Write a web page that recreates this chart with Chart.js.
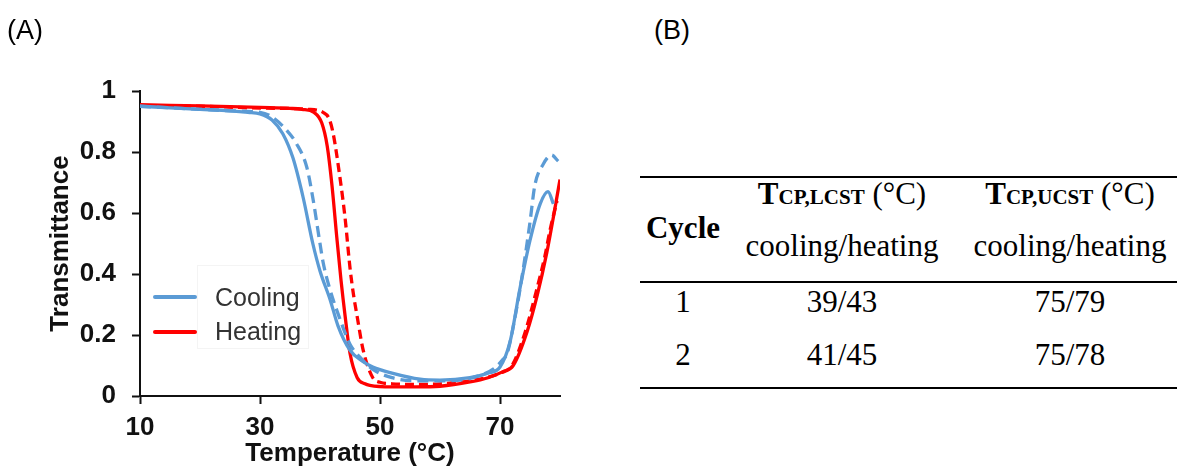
<!DOCTYPE html>
<html>
<head>
<meta charset="utf-8">
<title>Transmittance vs temperature</title>
<script src="https://cdn.jsdelivr.net/npm/chart.js@4"></script>
<style>
    html, body { margin: 0; padding: 0; background: #fff; overflow: hidden; }
    #wrap { position: relative; width: 1177px; height: 469px; overflow: hidden; }
    #chart { position: absolute; left: 0; top: 0; }
    .panel { position: absolute; font: 27px "Liberation Sans", Arial, sans-serif; line-height: 30px; color: #000; }
    .leg-line { position: absolute; width: 44px; height: 4px; border-radius: 2px; }
    .leg-text { position: absolute; left: 215px; font: 25px "Liberation Sans", Arial, sans-serif; line-height: 30px; color: #333; }
    #legbox { position: absolute; left: 197px; top: 265px; width: 110px; height: 82px; border: 1px solid #f4f4f4; }
    .rule { position: absolute; left: 640px; width: 537px; height: 2px; background: #000; }
    .cell { position: absolute; font: 31px "Liberation Serif", "Times New Roman", serif; line-height: 40px; height: 40px; text-align: center; white-space: nowrap; color: #000; }
    .cell b.big { font-weight: bold; }
    .cell b.sub { font-weight: bold; font-size: 21px; }
</style>
</head>
<body>
<div id="wrap">
    <canvas id="chart" width="600" height="469"></canvas>
    <div class="panel" style="left:7px;top:15px">(A)</div>
    <div class="panel" style="left:654px;top:15px">(B)</div>
    <div id="legbox"></div>
    <div class="leg-line" style="left:153px;top:295px;background:#5B9BD5"></div>
    <div class="leg-line" style="left:153px;top:330px;background:#FF0000"></div>
    <div class="leg-text" style="top:282px">Cooling</div>
    <div class="leg-text" style="top:316px">Heating</div>
    <div id="table"></div>
</div>
<script>
// 刻度
const xTicks = [10, 30, 50, 70];
const yTicks = [0, 0.2, 0.4, 0.6, 0.8, 1];

// 第一次循环 降温 (实线)
const cool1T = [10, 15, 20, 25, 28, 30, 32, 33.8, 35.5, 37.2, 38.8, 40, 41.7, 43, 45, 47, 48.8, 52, 56.7, 60, 65, 68, 70, 71.7, 73.3, 75, 76.7, 78, 78.9];
const cool1Y = [0.95, 0.945, 0.94, 0.935, 0.93, 0.925, 0.905, 0.86, 0.78, 0.65, 0.50, 0.41, 0.315, 0.23, 0.15, 0.115, 0.095, 0.075, 0.055, 0.052, 0.06, 0.075, 0.095, 0.18, 0.35, 0.51, 0.63, 0.67, 0.63];

// 第二次循环 降温 (虚线)
const cool2T = [10, 15, 20, 25, 30, 32, 34.5, 36, 37.8, 38.8, 40, 40.5, 41.5, 43, 45, 47, 49, 52, 56, 60, 65, 69, 70.5, 71.2, 72.8, 73.9, 75, 75.8, 77.2, 78.6, 79.7];
const cool2Y = [0.95, 0.945, 0.94, 0.935, 0.93, 0.915, 0.87, 0.83, 0.75, 0.65, 0.50, 0.44, 0.36, 0.27, 0.17, 0.12, 0.085, 0.06, 0.05, 0.05, 0.058, 0.09, 0.12, 0.14, 0.29, 0.42, 0.57, 0.69, 0.76, 0.79, 0.77];

// 第一次循环 升温 (实线)
const heat1T = [10, 15, 20, 25, 30, 35, 37, 39, 40.3, 41.2, 42, 42.8, 43.5, 44.2, 45, 46.2, 47.5, 48.3, 52, 56, 60, 65, 68, 70.5, 72.2, 74.5, 76.2, 77.8, 79.2, 80];
const heat1Y = [0.955, 0.953, 0.951, 0.949, 0.946, 0.943, 0.94, 0.93, 0.895, 0.82, 0.69, 0.52, 0.38, 0.26, 0.14, 0.06, 0.04, 0.035, 0.03, 0.03, 0.032, 0.046, 0.06, 0.08, 0.10, 0.21, 0.33, 0.47, 0.62, 0.71];

// 第二次循环 升温 (虚线)
const heat2T = [10, 20, 30, 38, 40.5, 41.5, 42.2, 43.3, 44.2, 45, 45.6, 46.2, 47.2, 48.8, 50, 52, 56, 60, 65, 70, 72, 74.2, 76, 77.5, 78.3, 79.5];
const heat2Y = [0.952, 0.95, 0.944, 0.94, 0.93, 0.91, 0.86, 0.72, 0.58, 0.42, 0.33, 0.26, 0.15, 0.06, 0.045, 0.04, 0.038, 0.04, 0.05, 0.075, 0.10, 0.21, 0.34, 0.46, 0.54, 0.64];

// 表格内容
const cycles = ['1', '2'];
const lcstValues = ['39/43', '41/45'];
const ucstValues = ['75/79', '75/78'];

const BLUE = '#5B9BD5';
const RED = '#FF0000';

function toPoints(xs, ys) {
    return xs.map((x, i) => ({ x: x, y: ys[i] }));
}

function lineSet(label, xs, ys, color, dash) {
    return {
        label: label,
        data: toPoints(xs, ys),
        borderColor: color,
        borderWidth: 3.3,
        borderDash: dash,
        borderCapStyle: 'butt',
        borderJoinStyle: 'round',
        pointRadius: 0,
        fill: false,
        cubicInterpolationMode: 'monotone'
    };
}

Chart.defaults.font.family = '"Liberation Sans", Arial, sans-serif';

const axisFont = { size: 26, weight: 'bold' };
const titleFont = { size: 26, weight: 'bold' };

new Chart(document.getElementById('chart'), {
    type: 'line',
    data: {
        datasets: [
            lineSet('Cooling', cool1T, cool1Y, BLUE, []),
            lineSet('Cooling 2', cool2T, cool2Y, BLUE, [11, 6]),
            lineSet('Heating', heat1T, heat1Y, RED, []),
            lineSet('Heating 2', heat2T, heat2Y, RED, [9, 5])
        ]
    },
    options: {
        responsive: false,
        animation: false,
        layout: { padding: { top: 91, right: 40, left: 0, bottom: 0 } },
        plugins: { legend: { display: false }, tooltip: { enabled: false } },
        scales: {
            x: {
                type: 'linear',
                min: 10,
                max: 80,
                afterBuildTicks: s => { s.ticks = xTicks.map(v => ({ value: v })); },
                afterFit: s => { s.height = 73; },
                grid: { drawOnChartArea: false, drawTicks: true, tickLength: 8, tickColor: '#111', tickWidth: 2 },
                border: { display: true, color: '#111', width: 2 },
                ticks: { color: '#111', font: axisFont, padding: 8, maxRotation: 0, callback: v => String(v) },
                title: { display: true, text: 'Temperature (°C)', color: '#111', font: titleFont, padding: 0 }
            },
            y: {
                type: 'linear',
                min: 0,
                max: 1,
                afterBuildTicks: s => { s.ticks = yTicks.map(v => ({ value: v })); },
                afterFit: s => { s.width = 140; },
                grid: { drawOnChartArea: false, drawTicks: true, tickLength: 8, tickColor: '#111', tickWidth: 2 },
                border: { display: true, color: '#111', width: 2 },
                ticks: { color: '#111', font: axisFont, padding: 16, callback: v => String(v) },
                title: { display: true, text: 'Transmittance', color: '#111', font: titleFont, padding: { top: 45, bottom: 0 } }
            }
        }
    }
});

// 表格 (B)
const table = document.getElementById('table');
const colCenters = [683, 842, 1070];

function addCell(html, cx, cy, width) {
    const d = document.createElement('div');
    d.className = 'cell';
    d.style.left = (cx - width / 2) + 'px';
    d.style.width = width + 'px';
    d.style.top = (cy - 20) + 'px';
    d.innerHTML = html;
    table.appendChild(d);
}

function addRule(y) {
    const r = document.createElement('div');
    r.className = 'rule';
    r.style.top = (y - 1) + 'px';
    table.appendChild(r);
}

addRule(177);
addRule(282);
addRule(388);

addCell('<b>Cycle</b>', colCenters[0], 228, 100);
addCell('<b class="big">T</b><b class="sub">CP,LCST</b> (°C)', colCenters[1], 194, 230);
addCell('<b class="big">T</b><b class="sub">CP,UCST</b> (°C)', colCenters[2], 194, 230);
addCell('cooling/heating', colCenters[1], 246, 230);
addCell('cooling/heating', colCenters[2], 246, 230);

const rowY = [302, 355];
cycles.forEach((c, i) => {
    addCell(c, colCenters[0], rowY[i], 60);
    addCell(lcstValues[i], colCenters[1], rowY[i], 160);
    addCell(ucstValues[i], colCenters[2], rowY[i], 160);
});
</script>
</body>
</html>
